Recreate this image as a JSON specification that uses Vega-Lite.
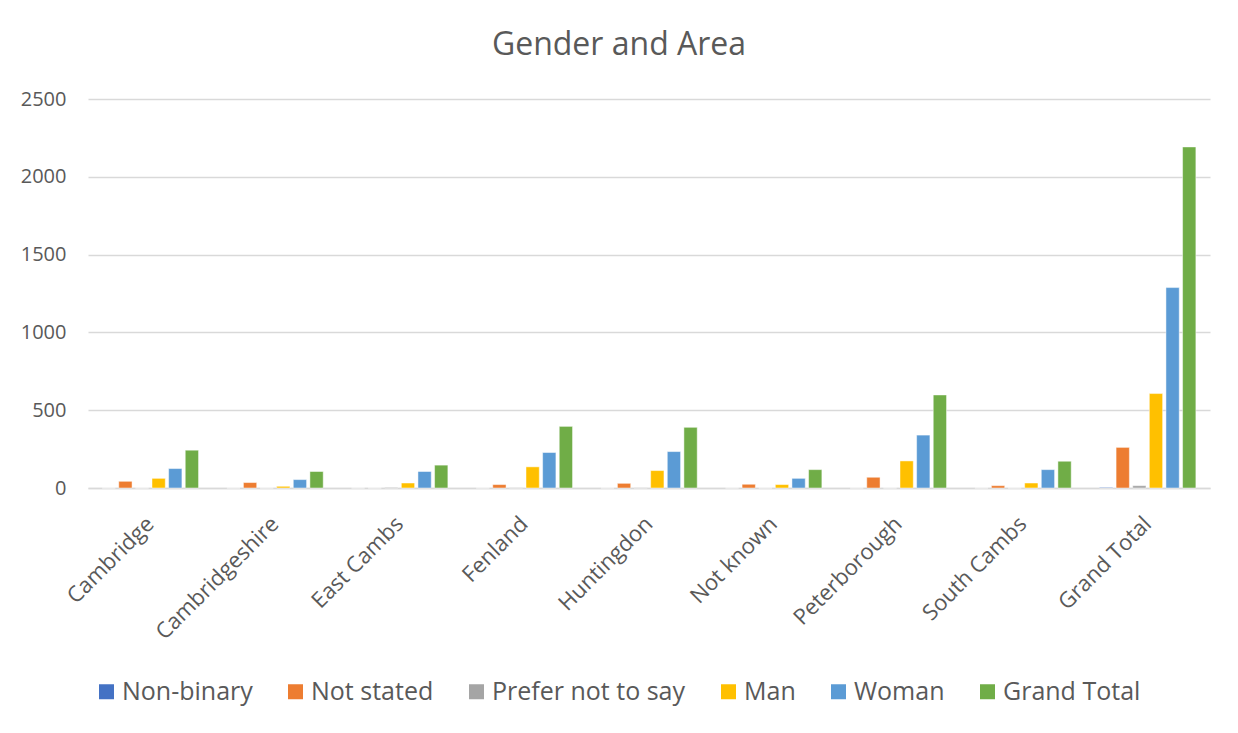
{
  "$schema": "https://vega.github.io/schema/vega-lite/v6.json",
  "autosize": {"type": "none"},
  "width": 1122,
  "height": 389,
  "padding": {"left": 88, "top": 99, "right": 28, "bottom": 245},
  "background": "white",
  "title": {"text": "Gender and Area", "fontSize": 32, "font": "Open Sans", "fontWeight": "normal", "color": "#595959", "anchor": "middle", "offset": 27, "dx": -30},
  "data": {"values": [
    {"area": "Cambridge", "gender": "Non-binary", "value": 0},
    {"area": "Cambridge", "gender": "Not stated", "value": 43},
    {"area": "Cambridge", "gender": "Prefer not to say", "value": 0},
    {"area": "Cambridge", "gender": "Man", "value": 62},
    {"area": "Cambridge", "gender": "Woman", "value": 125},
    {"area": "Cambridge", "gender": "Grand Total", "value": 243},
    {"area": "Cambridgeshire", "gender": "Non-binary", "value": 0},
    {"area": "Cambridgeshire", "gender": "Not stated", "value": 35},
    {"area": "Cambridgeshire", "gender": "Prefer not to say", "value": 0},
    {"area": "Cambridgeshire", "gender": "Man", "value": 11},
    {"area": "Cambridgeshire", "gender": "Woman", "value": 54},
    {"area": "Cambridgeshire", "gender": "Grand Total", "value": 106},
    {"area": "East Cambs", "gender": "Non-binary", "value": 0},
    {"area": "East Cambs", "gender": "Not stated", "value": 0},
    {"area": "East Cambs", "gender": "Prefer not to say", "value": 4},
    {"area": "East Cambs", "gender": "Man", "value": 32},
    {"area": "East Cambs", "gender": "Woman", "value": 106},
    {"area": "East Cambs", "gender": "Grand Total", "value": 147},
    {"area": "Fenland", "gender": "Non-binary", "value": 0},
    {"area": "Fenland", "gender": "Not stated", "value": 22},
    {"area": "Fenland", "gender": "Prefer not to say", "value": 2},
    {"area": "Fenland", "gender": "Man", "value": 136},
    {"area": "Fenland", "gender": "Woman", "value": 228},
    {"area": "Fenland", "gender": "Grand Total", "value": 396},
    {"area": "Huntingdon", "gender": "Non-binary", "value": 0},
    {"area": "Huntingdon", "gender": "Not stated", "value": 30},
    {"area": "Huntingdon", "gender": "Prefer not to say", "value": 2},
    {"area": "Huntingdon", "gender": "Man", "value": 112},
    {"area": "Huntingdon", "gender": "Woman", "value": 234},
    {"area": "Huntingdon", "gender": "Grand Total", "value": 390},
    {"area": "Not known", "gender": "Non-binary", "value": 0},
    {"area": "Not known", "gender": "Not stated", "value": 24},
    {"area": "Not known", "gender": "Prefer not to say", "value": 0},
    {"area": "Not known", "gender": "Man", "value": 22},
    {"area": "Not known", "gender": "Woman", "value": 62},
    {"area": "Not known", "gender": "Grand Total", "value": 118},
    {"area": "Peterborough", "gender": "Non-binary", "value": 0},
    {"area": "Peterborough", "gender": "Not stated", "value": 69},
    {"area": "Peterborough", "gender": "Prefer not to say", "value": 0},
    {"area": "Peterborough", "gender": "Man", "value": 174},
    {"area": "Peterborough", "gender": "Woman", "value": 340},
    {"area": "Peterborough", "gender": "Grand Total", "value": 598},
    {"area": "South Cambs", "gender": "Non-binary", "value": 0},
    {"area": "South Cambs", "gender": "Not stated", "value": 15},
    {"area": "South Cambs", "gender": "Prefer not to say", "value": 0},
    {"area": "South Cambs", "gender": "Man", "value": 32},
    {"area": "South Cambs", "gender": "Woman", "value": 118},
    {"area": "South Cambs", "gender": "Grand Total", "value": 172},
    {"area": "Grand Total", "gender": "Non-binary", "value": 4},
    {"area": "Grand Total", "gender": "Not stated", "value": 261},
    {"area": "Grand Total", "gender": "Prefer not to say", "value": 15},
    {"area": "Grand Total", "gender": "Man", "value": 607},
    {"area": "Grand Total", "gender": "Woman", "value": 1288},
    {"area": "Grand Total", "gender": "Grand Total", "value": 2192}
  ]},
  "mark": {"type": "bar", "stroke": "white", "strokeWidth": 0.8, "strokeOpacity": 0.6},
  "encoding": {
    "x": {
      "field": "area", "type": "nominal",
      "sort": ["Cambridge", "Cambridgeshire", "East Cambs", "Fenland", "Huntingdon", "Not known", "Peterborough", "South Cambs", "Grand Total"],
      "scale": {"paddingInner": 0.2, "paddingOuter": 0.1},
      "axis": {"title": null, "labelAngle": -45, "labelAlign": "right", "labelBaseline": "middle", "labelFontSize": 22, "labelFont": "Open Sans", "labelColor": "#595959", "labelPadding": 32, "ticks": false, "domainColor": "#d9d9d9", "domainWidth": 1.5, "grid": false}
    },
    "xOffset": {
      "field": "gender", "type": "nominal",
      "sort": ["Non-binary", "Not stated", "Prefer not to say", "Man", "Woman", "Grand Total"],
      "scale": {"paddingInner": 0.2, "paddingOuter": 0.1}
    },
    "y": {
      "field": "value", "type": "quantitative",
      "scale": {"domain": [0, 2500], "nice": false},
      "axis": {"title": null, "values": [0, 500, 1000, 1500, 2000, 2500], "format": "d", "labelFontSize": 20, "labelFont": "Open Sans", "labelColor": "#595959", "labelPadding": 22, "ticks": false, "domain": false, "gridColor": "#d9d9d9", "gridWidth": 1.3}
    },
    "color": {
      "field": "gender", "type": "nominal",
      "sort": ["Non-binary", "Not stated", "Prefer not to say", "Man", "Woman", "Grand Total"],
      "scale": {"domain": ["Non-binary", "Not stated", "Prefer not to say", "Man", "Woman", "Grand Total"], "range": ["#4472C4", "#ED7D31", "#A5A5A5", "#FFC000", "#5B9BD5", "#70AD47"]},
      "legend": {"title": null, "orient": "none", "direction": "horizontal", "columns": 6, "legendX": 6, "legendY": 580, "symbolType": "square", "symbolSize": 225, "symbolStrokeWidth": 0, "labelFontSize": 25, "labelFont": "Open Sans", "labelColor": "#595959", "labelOffset": 3, "columnPadding": 30, "labelLimit": 300}
    }
  },
  "config": {"view": {"stroke": null}}
}
